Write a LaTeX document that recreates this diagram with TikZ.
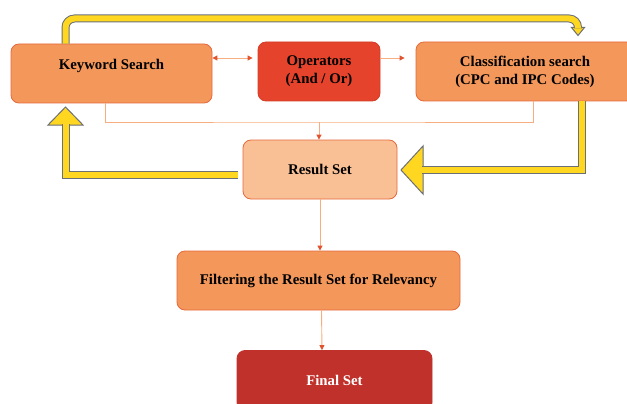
\documentclass[tikz,border=0pt]{standalone}
\usepackage{fontspec}
\setmainfont{Liberation Serif}
\usetikzlibrary{shapes.geometric, arrows.meta, positioning, calc}
\definecolor{boxorange}{HTML}{F3975B}
\definecolor{boxedge}{HTML}{E5693B}
\definecolor{oprred}{HTML}{E5432C}
\definecolor{resultpeach}{HTML}{F9C096}
\definecolor{finalred}{HTML}{C1312B}
\definecolor{linkorange}{HTML}{F6AD80}
\definecolor{tipred}{HTML}{E0532C}
\definecolor{loopyellow}{HTML}{FFD620}
\definecolor{loopgray}{HTML}{6A6F78}

\begin{document}
\begin{tikzpicture}[x=1pt, y=-1pt, font=\fontsize{14.8}{18}\selectfont\bfseries]
\tikzstyle{stepOrange} = [rectangle, rounded corners=8pt, minimum height=59pt, align=center, draw=boxedge, fill=boxorange, line width=0.8pt]
\tikzstyle{stepRed} = [stepOrange, draw=oprred!92!black, fill=oprred]
\tikzstyle{stepLight} = [stepOrange, fill=resultpeach]
\tikzstyle{stepFinal} = [stepOrange, draw=finalred, fill=finalred, text=white]
\tikzstyle{link} = [draw=linkorange, line width=0.9pt]
\tikzstyle{linkTip} = [link, -{Triangle[length=5pt, width=5pt, color=tipred]}]
\tikzstyle{linkBoth} = [link, {Triangle[length=5pt, width=5pt, color=tipred]}-{Triangle[length=5pt, width=5pt, color=tipred]}]
\tikzstyle{loopShaft} = [draw=loopgray, double=loopyellow, line width=1pt, double distance=6pt]
\tikzstyle{loopHead} = [draw=loopgray, fill=loopyellow, line width=1pt, line join=miter]

\useasboundingbox (0,0) rectangle (627,404);

% search boxes
\node (kw) [stepOrange, minimum width=201pt, text height=10pt, text depth=17pt] at (111.5,73.5) {Keyword Search};
\node (ops) [stepRed, minimum width=122pt] at (319,71.5) {Operators\\(And / Or)};
\node (cls) [stepOrange, minimum width=218pt] at (525,71.5) {Classification search\\(CPC and IPC Codes)};
\node (res) [stepLight, minimum width=154pt] at (320,169.5) {Result Set};
\node (filt) [stepOrange, minimum width=283pt] at (318.5,280.5) {Filtering the Result Set for Relevancy};
\node (fin) [stepFinal, minimum width=195pt, minimum height=60pt] at (334.5,380.5) {Final Set};

% thin links
\coordinate (toprow) at (0,58);
\coordinate (join) at (319,122);
\draw[linkBoth, shorten >=5pt] (kw.east |- toprow) -- (ops.west |- toprow);
\draw[linkTip, shorten >=11pt] (ops.east |- toprow) -- (cls.west |- toprow);
\draw[link] ($(kw.south)+(-6.5,0)$) |- (join) -| ($(cls.south)+(8,0)$);
\draw[linkTip] (join) -- (join |- res.north);
\draw[linkTip] (res.south) -- (res.south |- filt.north);
\draw[linkTip] ($(filt.south)+(3,0)$) -- ($(fin.north)+(-12.5,0)$);

% yellow loops
\coordinate (ltip) at (65.5,107);
\coordinate (rtip) at (401,170);
\coordinate (ttip) at (578,35.5);
\draw[loopHead] (ltip) -- ++(17.5,18) -- ++(-35,0) -- cycle;
\draw[loopShaft] ($(res.west)+(-5,5.5)$) -| ($(ltip)+(0,17)$);
\draw[loopHead] (rtip) -- ++(22,-24) -- ++(0,48) -- cycle;
\draw[loopShaft] ($(cls.south)+(57,0)$) |- ($(rtip)+(21,0)$);
\draw[loopHead] (ttip) -- ++(6.5,-8) -- ++(-13,0) -- cycle;
\draw[loopShaft, rounded corners=9pt] ($(kw.north)+(-46,0)$) |- ($(ttip)+(0,-17)$) -- ($(ttip)+(0,-7)$);

\end{tikzpicture}
\end{document}
